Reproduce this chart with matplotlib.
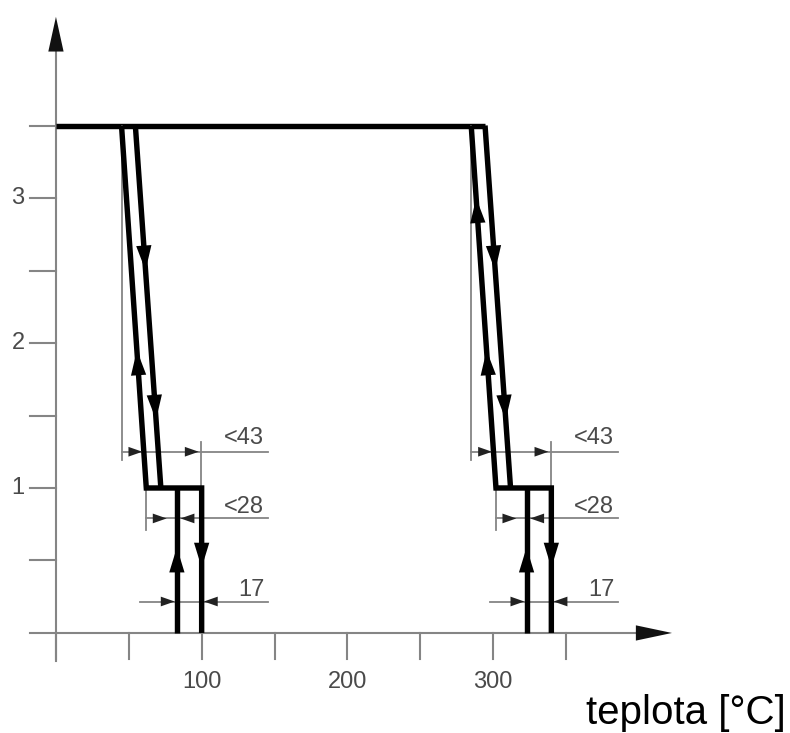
import numpy as np
import matplotlib.pyplot as plt

# ── data ──────────────────────────────────────────────────────────────────────
level_high = 3.5
level_low = 1.0
level_zero = 0.0

# two hysteresis loops (temperature in °C)
top_left     = [45.0, 285.0]     # start of the up-going slanted line at level_high
top_right    = [54.5, 294.5]     # start of the down-going slanted line at level_high
bottom_left  = [62.0, 302.0]     # up-going line at level_low
bottom_right = [72.0, 312.0]     # down-going line at level_low
step_left    = [83.0, 323.0]     # left vertical step (heating)
step_right   = [100.0, 340.0]    # right vertical step (cooling)

# arrows on the loop lines (level of the arrow tip)
up_arrows_slant   = [[1.95], [3.0, 1.95]]
down_arrows_slant = [[2.50, 1.47], [2.50, 1.47]]
up_arrow_step   = 0.59
down_arrow_step = 0.45

# dimension annotations
dim_labels = ['<43', '<28', '17']
dim_levels = [1.25, 0.79, 0.217]
dim_text_levels = [1.345, 0.872, 0.297]

x_ticks = [0, 50, 100, 150, 200, 250, 300, 350]
x_labels = [100, 200, 300]
y_ticks = [0.5, 1.0, 1.5, 2.0, 2.5, 3.0, 3.5]
y_labels = [1, 2, 3]
x_title = 'teplota [°C]'

# ── figure ────────────────────────────────────────────────────────────────────
fig = plt.figure(figsize=(7.9, 7.33), dpi=100)
ax = fig.add_axes([0, 0, 1, 1])
ax.set_xlim(-38.4, 503.8)
ax.set_ylim(-0.690, 4.366)
ax.axis('off')

gray = '#858585'
tgray = '#4a4a4a'
font = ['Liberation Sans', 'DejaVu Sans']
thick = dict(color='black', lw=3.9, solid_joinstyle='miter', solid_capstyle='butt')


def arrow(tip, base, color='black', hl=1.8, hw=0.55, ms=10):
    ax.annotate('', xy=tip, xytext=base,
                arrowprops=dict(arrowstyle=f'-|>,head_length={hl},head_width={hw}',
                                color=color, lw=0, shrinkA=0, shrinkB=0,
                                mutation_scale=ms))


def on_line(x0, y0, x1, y1, y):
    return x0 + (x1 - x0) * (y - y0) / (y1 - y0)


# axes
ax.plot([-18, 410], [0, 0], color=gray, lw=1.5)
ax.plot([0, 0], [-0.19, 4.1], color=gray, lw=1.5)
arrow((422.8, 0), (398, 0), color='#111111', hl=2.6, hw=0.55)
arrow((0, 4.25), (0, 4.01), color='#111111', hl=2.5, hw=0.55)

for t in x_ticks:
    ax.plot([t, t], [0, -0.18], color=gray, lw=1.5)
for y in y_ticks:
    ax.plot([-18, 0], [y, y], color=gray, lw=1.5)
for t in x_labels:
    ax.text(t, -0.338, str(t), ha='center', va='center', fontsize=17,
            color=tgray, family=font)
for y in y_labels:
    ax.text(-26, y, str(y), ha='center', va='center', fontsize=17,
            color=tgray, family=font)
ax.text(501, -0.625, x_title, ha='right', va='baseline', fontsize=29,
        color='black', family=font)

# top line
ax.plot([0, top_right[1]], [level_high, level_high], **thick)

for i in range(2):
    tl, tr, bl, br = top_left[i], top_right[i], bottom_left[i], bottom_right[i]
    sl, sr = step_left[i], step_right[i]

    # gray extension / dimension lines
    ax.plot([tl, tl], [level_high, 1.19], color=gray, lw=1.3)
    ax.plot([sr - 0.5, sr - 0.5], [level_low, 1.32], color=gray, lw=1.3)
    ax.plot([bl, bl], [level_low, 0.71], color=gray, lw=1.3)
    ax.plot([tl, tl + 100.5], [dim_levels[0]] * 2, color=gray, lw=1.3)
    ax.plot([bl, tl + 100.5], [dim_levels[1]] * 2, color=gray, lw=1.3)
    ax.plot([tl + 12.7, tl + 100.5], [dim_levels[2]] * 2, color=gray, lw=1.3)

    # small dimension arrows
    ka = dict(color='#222222', hl=1.0, hw=0.35)
    xa = on_line(tl, level_high, bl, level_low, dim_levels[0])
    arrow((xa - 1, dim_levels[0]), (xa - 9, dim_levels[0]), **ka)
    arrow((sr - 2, dim_levels[0]), (sr - 10, dim_levels[0]), **ka)
    arrow((sl - 7, dim_levels[1]), (sl - 15, dim_levels[1]), **ka)
    arrow((sl + 2.5, dim_levels[1]), (sl + 10.5, dim_levels[1]), **ka)
    arrow((sl - 1.5, dim_levels[2]), (sl - 9.5, dim_levels[2]), **ka)
    arrow((sr + 1.5, dim_levels[2]), (sr + 9.5, dim_levels[2]), **ka)

    for lab, ty in zip(dim_labels, dim_text_levels):
        tx = tl + (84 if lab != '17' else 89.5)
        ax.text(tx, ty, lab, ha='center', va='center', fontsize=17,
                color=tgray, family=font)

    # loop lines
    ax.plot([tl, bl, sr, sr], [level_high, level_low, level_low, level_zero], **thick)
    ax.plot([tr, br], [level_high, level_low], **thick)
    ax.plot([sl, sl], [level_low, level_zero], **thick)

    # direction arrows
    for y in up_arrows_slant[i]:
        x = on_line(tl, level_high, bl, level_low, y)
        xb = on_line(tl, level_high, bl, level_low, y - 0.16)
        arrow((x, y), (xb, y - 0.16))
    for y in down_arrows_slant[i]:
        x = on_line(tr, level_high, br, level_low, y)
        xb = on_line(tr, level_high, br, level_low, y + 0.16)
        arrow((x, y), (xb, y + 0.16))
    arrow((sl, up_arrow_step), (sl, up_arrow_step - 0.16))
    arrow((sr, down_arrow_step), (sr, down_arrow_step + 0.16))

fig.savefig('out.png', dpi=100)
